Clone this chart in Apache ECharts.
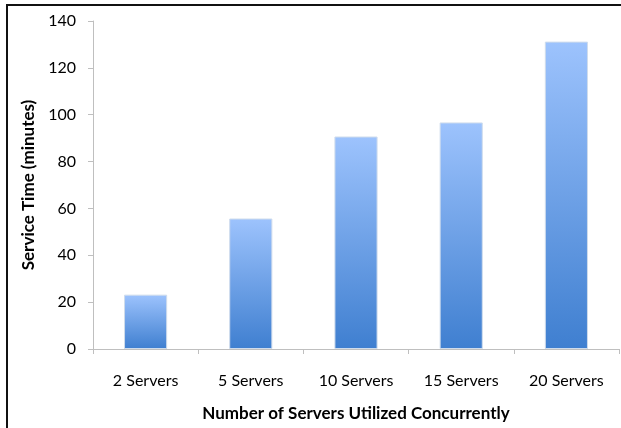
<!DOCTYPE html>
<html>
<head>
<meta charset="utf-8">
<script src="https://cdn.jsdelivr.net/npm/echarts@6/dist/echarts.min.js"></script>
<style>
  html, body { margin: 0; padding: 0; background: #fff; }
  #frame { position: absolute; left: 6px; top: 4px; width: 640px; height: 460px;
           border: 2px solid #111; box-sizing: border-box; }
  #chart { position: absolute; left: 0; top: 0; width: 621px; height: 428px; }
</style>
</head>
<body>
<div id="frame"></div>
<div id="chart"></div>
<script>
// Service time measured for each server count
const categories = ['2 Servers', '5 Servers', '10 Servers', '15 Servers', '20 Servers'];
const serviceMinutes = [23.2, 55.7, 90.7, 96.7, 131.2];
const yTicks = { min: 0, max: 140, interval: 20 };

const FONT = 'Lato, "Open Sans", sans-serif';
const chart = echarts.init(document.getElementById('chart'), null, { renderer: 'canvas' });

chart.setOption({
  animation: false,
  grid: { left: 93, right: 2, top: 21, bottom: 79, containLabel: false },
  xAxis: {
    type: 'category',
    data: categories,
    name: 'Number of Servers Utilized Concurrently',
    nameLocation: 'middle',
    nameGap: 56,
    nameTextStyle: { fontFamily: FONT, fontWeight: 'bold', fontSize: 17, color: '#000' },
    axisLine: { lineStyle: { color: '#bfbfbf', width: 1 } },
    axisTick: { show: true, length: 5, lineStyle: { color: '#bfbfbf' } },
    axisLabel: { fontFamily: FONT, fontSize: 16, color: '#000', margin: 24 }
  },
  yAxis: {
    type: 'value',
    min: yTicks.min,
    max: yTicks.max,
    interval: yTicks.interval,
    name: 'Service Time (minutes)',
    nameLocation: 'middle',
    nameGap: 53,
    nameRotate: 90,
    nameTextStyle: { fontFamily: FONT, fontWeight: 'bold', fontSize: 17, color: '#000' },
    axisLine: { show: true, lineStyle: { color: '#bfbfbf', width: 1 } },
    axisTick: { show: true, length: 5, lineStyle: { color: '#bfbfbf' } },
    axisLabel: { fontFamily: FONT, fontSize: 16, color: '#000', margin: 17 },
    splitLine: { show: false }
  },
  series: [{
    type: 'bar',
    data: serviceMinutes,
    barWidth: '41%',
    itemStyle: {
      borderColor: '#cfdcec',
      borderWidth: 1,
      color: new echarts.graphic.LinearGradient(0, 0, 0, 1, [
        { offset: 0, color: '#9dc3fd' },
        { offset: 1, color: '#3f7fd0' }
      ])
    }
  }]
});
</script>
</body>
</html>
